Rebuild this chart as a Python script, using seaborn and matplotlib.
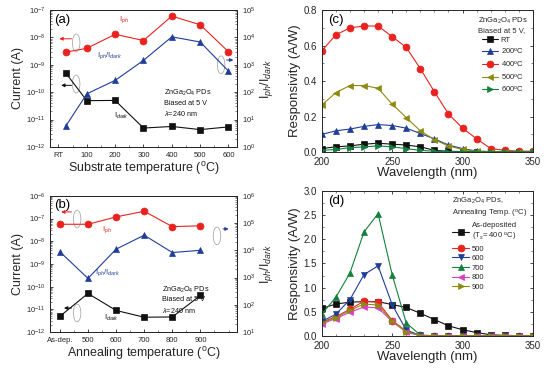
import numpy as np
import matplotlib
matplotlib.use('Agg')
import matplotlib.pyplot as plt
import seaborn as sns
from matplotlib.patches import Ellipse
from matplotlib.ticker import LogLocator, NullFormatter, MultipleLocator

# (a) substrate temperature series
a_temp = [25, 100, 200, 300, 400, 500, 600]
a_ticks = [0, 100, 200, 300, 400, 500, 600]
a_ticklabels = ['RT', '100', '200', '300', '400', '500', '600']
a_iph = [2.9e-9, 4.0e-9, 1.3e-8, 7.7e-9, 6.0e-8, 2.9e-8, 3.0e-9]
a_idark = [5.1e-10, 4.9e-11, 5.0e-11, 4.9e-12, 5.6e-12, 4.3e-12, 5.4e-12]
a_ratio = [5.6, 87, 270, 1450, 1.05e4, 6.8e3, 590]

# (b) annealing temperature series
b_temp = [400, 500, 600, 700, 800, 900]
b_ticklabels = ['As-dep.', '500', '600', '700', '800', '900']
b_iph = [5.6e-8, 5.6e-8, 1.18e-7, 2.1e-7, 4.4e-8, 4.8e-8]
b_idark = [4.9e-12, 5.0e-11, 8.9e-12, 4.5e-12, 4.6e-12, 4.1e-11]
b_ratio = [8.9e3, 930, 1.1e4, 3.6e4, 8.3e3, 1.0e4]

# (c) responsivity vs wavelength, substrate temperature
wl = [200, 210, 220, 230, 240, 250, 260, 270, 280, 290, 300, 310, 320, 330, 340, 350]
c_rt = [0.02, 0.03, 0.035, 0.045, 0.05, 0.045, 0.04, 0.03, 0.01, 0.005, 0.003, 0.002, 0.002, 0.002, 0.002, 0.002]
c_200 = [0.10, 0.12, 0.13, 0.145, 0.155, 0.15, 0.135, 0.105, 0.075, 0.04, 0.02, 0.006, 0.003, 0.002, 0.002, 0.002]
c_400 = [0.57, 0.66, 0.70, 0.71, 0.71, 0.65, 0.59, 0.47, 0.34, 0.215, 0.135, 0.075, 0.02, 0.01, 0.006, 0.005]
c_500 = [0.265, 0.335, 0.375, 0.375, 0.36, 0.27, 0.195, 0.12, 0.07, 0.035, 0.015, 0.005, 0.003, 0.002, 0.002, 0.002]
c_600 = [0.01, 0.015, 0.025, 0.03, 0.035, 0.03, 0.02, 0.01, 0.005, 0.003, 0.002, 0.002, 0.002, 0.002, 0.002, 0.002]

# (d) responsivity vs wavelength, annealing temperature
d_asdep = [0.57, 0.66, 0.70, 0.71, 0.71, 0.65, 0.59, 0.47, 0.34, 0.21, 0.13, 0.07, 0.025, 0.012, 0.008, 0.006]
d_500 = [0.28, 0.40, 0.55, 0.72, 0.70, 0.32, 0.10, 0.012, 0.004, 0.003, 0.002, 0.002, 0.002, 0.002, 0.002, 0.002]
d_600 = [0.30, 0.45, 0.75, 1.27, 1.45, 0.65, 0.12, 0.012, 0.004, 0.003, 0.002, 0.002, 0.002, 0.002, 0.002, 0.002]
d_700 = [0.45, 0.80, 1.30, 2.15, 2.53, 1.27, 0.27, 0.02, 0.005, 0.003, 0.002, 0.002, 0.002, 0.002, 0.002, 0.002]
d_800 = [0.25, 0.36, 0.49, 0.60, 0.58, 0.30, 0.08, 0.006, 0.003, 0.002, 0.002, 0.002, 0.002, 0.002, 0.002, 0.002]
d_900 = [0.27, 0.38, 0.53, 0.66, 0.64, 0.31, 0.09, 0.01, 0.004, 0.003, 0.002, 0.002, 0.002, 0.002, 0.002, 0.002]

sns.set_style('ticks')
plt.rcParams['font.family'] = ['Liberation Sans', 'DejaVu Sans']
plt.rcParams['mathtext.fontset'] = 'custom'
plt.rcParams['mathtext.rm'] = 'Liberation Sans'
plt.rcParams['mathtext.it'] = 'Liberation Sans:italic'
plt.rcParams['xtick.direction'] = 'in'
plt.rcParams['ytick.direction'] = 'in'

RED = '#e8231f'
BLUE = '#1f3d99'
BLACK = '#111111'
GREEN = '#14803c'
OLIVE = '#8c8a12'
PINK = '#d640c0'
TICK_FS = 5.5
LAB_FS = 9

fig = plt.figure(figsize=(5.5, 3.72), dpi=100)
ax_a = fig.add_axes([0.0909, 0.605, 0.340, 0.368])
ax_b = fig.add_axes([0.0909, 0.1075, 0.340, 0.366])
ax_c = fig.add_axes([0.585, 0.591, 0.384, 0.382])
ax_d = fig.add_axes([0.585, 0.0968, 0.384, 0.39])


def series(ax, x, y, color, marker, ms=4.5, label=None):
    sns.lineplot(x=x, y=y, ax=ax, color=color, marker=marker, markersize=ms,
                 markeredgecolor=color, markeredgewidth=0.5, lw=0.8, label=label)


def style_log(ax, lo, hi):
    ax.set_yscale('log')
    ax.set_ylim(lo, hi)
    ax.yaxis.set_major_locator(LogLocator(base=10, numticks=12))
    ax.yaxis.set_minor_locator(LogLocator(base=10, subs=np.arange(2, 10), numticks=12))
    ax.yaxis.set_minor_formatter(NullFormatter())
    ax.tick_params(labelsize=TICK_FS, length=2.5, width=0.6)
    ax.tick_params(which='minor', length=1.3, width=0.4)


def note(ax, x, y, s, color, fs=5.5, **kw):
    ax.text(x, y, s, transform=ax.transAxes, color=color, fontsize=fs, **kw)


def arrow(ax, x0, x1, y, color):
    ax.annotate('', xy=(x1, y), xytext=(x0, y), xycoords='axes fraction',
                arrowprops=dict(arrowstyle='-|>', color=color, lw=0.7, mutation_scale=5))


def ring(ax, x, y):
    ax.add_patch(Ellipse((x, y), 0.04, 0.13, transform=ax.transAxes, fill=False,
                         ec='#aaaaaa', lw=0.6, clip_on=False))


def current_panel(ax, x, iph, idark, ratio, ticks, ticklabels, xlim, ylo, yhi, rlo, rhi, xlabel):
    series(ax, x, iph, RED, 'o', ms=5)
    series(ax, x, idark, BLACK, 's', ms=4.5)
    style_log(ax, ylo, yhi)
    ax.set_xlim(*xlim)
    ax.set_xticks(ticks)
    ax.set_xticklabels(ticklabels)
    ax.xaxis.set_minor_locator(MultipleLocator(50))
    ax.set_ylabel('Current (A)', fontsize=LAB_FS, labelpad=1)
    ax.set_xlabel(xlabel, fontsize=LAB_FS, labelpad=1)
    axr = ax.twinx()
    series(axr, x, ratio, BLUE, '^', ms=5)
    style_log(axr, rlo, rhi)
    axr.set_ylabel('I$_{ph}$/I$_{dark}$', fontsize=LAB_FS, labelpad=2)
    ax.tick_params(axis='x', which='minor', length=1.3)
    return axr


# (a)
axr_a = current_panel(ax_a, a_temp, a_iph, a_idark, a_ratio, a_ticks, a_ticklabels,
                      (-30, 630), 1e-12, 1e-7, 1e0, 1e5, 'Substrate temperature ($^\\mathrm{o}$C)')
note(ax_a, 0.02, 0.93, '(a)', 'black', fs=9.5, va='center')
note(ax_a, 0.37, 0.93, 'I$_{ph}$', RED, va='center')
note(ax_a, 0.25, 0.67, 'I$_{ph}$/I$_{dark}$', BLUE, va='center')
note(ax_a, 0.34, 0.23, 'I$_{dark}$', BLACK, va='center')
note(ax_a, 0.61, 0.43, 'ZnGa$_2$O$_4$ PDs\nBiased at 5 V\n$\\lambda$=240 nm', BLACK,
     fs=5.2, va='top', linespacing=1.35)
arrow(ax_a, 0.13, 0.035, 0.79, RED)
ring(ax_a, 0.14, 0.76)
arrow(ax_a, 0.13, 0.045, 0.45, BLACK)
ring(ax_a, 0.14, 0.46)
arrow(ax_a, 0.93, 0.995, 0.635, BLUE)
ring(ax_a, 0.915, 0.6)

# (b)
axr_b = current_panel(ax_b, b_temp, b_iph, b_idark, b_ratio, b_temp, b_ticklabels,
                      (365, 1030), 1e-12, 1e-6, 1e1, 1e6, 'Annealing temperature ($^\\mathrm{o}$C)')
note(ax_b, 0.02, 0.93, '(b)', 'black', fs=9.5, va='center')
note(ax_b, 0.28, 0.75, 'I$_{ph}$', RED, va='center')
note(ax_b, 0.24, 0.44, 'I$_{ph}$/I$_{dark}$', BLUE, va='center')
note(ax_b, 0.29, 0.10, 'I$_{dark}$', BLACK, va='center')
note(ax_b, 0.6, 0.35, 'ZnGa$_2$O$_4$ PDs\nBiased at 5 V\n$\\lambda$=240 nm', BLACK,
     fs=5.2, va='top', linespacing=1.35)
arrow(ax_b, 0.13, 0.045, 0.882, RED)
ring(ax_b, 0.145, 0.83)
arrow(ax_b, 0.91, 0.97, 0.757, BLUE)
ring(ax_b, 0.893, 0.706)
arrow(ax_b, 0.13, 0.06, 0.176, BLACK)
ring(ax_b, 0.145, 0.14)


def resp_panel(ax, ylim, step, minor):
    ax.set_xlim(200, 350)
    ax.set_ylim(*ylim)
    ax.xaxis.set_major_locator(MultipleLocator(50))
    ax.xaxis.set_minor_locator(MultipleLocator(10))
    ax.yaxis.set_major_locator(MultipleLocator(step))
    ax.yaxis.set_minor_locator(MultipleLocator(minor))
    ax.tick_params(labelsize=7, length=2.5, width=0.6, top=True, right=True)
    ax.tick_params(which='minor', length=1.3, width=0.4, top=True, right=True)
    ax.set_xlabel('Wavelength (nm)', fontsize=LAB_FS + 0.5, labelpad=0)
    ax.set_ylabel('Responsivity (A/W)', fontsize=LAB_FS + 0.5, labelpad=2)


# (c)
series(ax_c, wl, c_rt, BLACK, 's', ms=4, label='RT')
series(ax_c, wl, c_200, BLUE, '^', ms=4.5, label='200$^\\mathrm{o}$C')
series(ax_c, wl, c_400, RED, 'o', ms=5, label='400$^\\mathrm{o}$C')
series(ax_c, wl, c_500, OLIVE, '<', ms=4.5, label='500$^\\mathrm{o}$C')
series(ax_c, wl, c_600, GREEN, '>', ms=4.5, label='600$^\\mathrm{o}$C')
resp_panel(ax_c, (0, 0.8), 0.2, 0.1)
ax_c.yaxis.set_major_formatter(matplotlib.ticker.FormatStrFormatter('%.1f'))
ax_c.legend(loc='upper right', frameon=False, fontsize=5.5, title_fontsize=5.5,
            title='ZnGa$_2$O$_4$ PDs\nBiased at 5 V,', handlelength=2.2,
            labelspacing=0.35, borderaxespad=0.3, handletextpad=0.3)
note(ax_c, 0.03, 0.93, '(c)', 'black', fs=9.5, va='center')

# (d)
series(ax_d, wl, d_asdep, BLACK, 's', ms=4, label='As-deposited\n(T$_s$= 400 $^\\mathrm{o}$C)')
series(ax_d, wl, d_500, RED, 'o', ms=5, label='500')
series(ax_d, wl, d_600, BLUE, 'v', ms=4.5, label='600')
series(ax_d, wl, d_700, GREEN, '^', ms=4.5, label='700')
series(ax_d, wl, d_800, PINK, '<', ms=4.5, label='800')
series(ax_d, wl, d_900, OLIVE, '>', ms=4.5, label='900')
resp_panel(ax_d, (0, 3.0), 0.5, 0.25)
ax_d.yaxis.set_major_formatter(matplotlib.ticker.FormatStrFormatter('%.1f'))
leg = ax_d.legend(loc='upper right', frameon=False, fontsize=5.5, title_fontsize=5.5,
                  title='ZnGa$_2$O$_4$ PDs,\nAnnealing Temp. ($^\\mathrm{o}$C)', handlelength=2.2,
                  labelspacing=0.3, borderaxespad=0.3, handletextpad=0.3)
leg._legend_box.align = 'left'
note(ax_d, 0.03, 0.93, '(d)', 'black', fs=9.5, va='center')

for ax in (ax_a, ax_b, axr_a, axr_b, ax_c, ax_d):
    for sp in ax.spines.values():
        sp.set_linewidth(0.7)

fig.savefig('out.png', dpi=100)
